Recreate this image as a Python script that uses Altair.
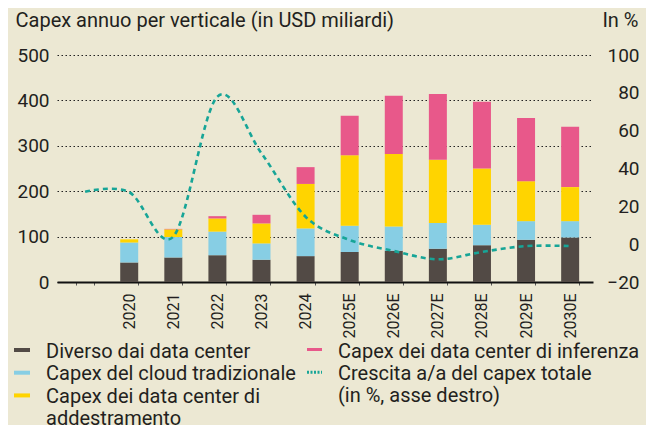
import altair as alt
import pandas as pd

# ---------------- data ----------------
years_all = ["2019", "2020", "2021", "2022", "2023", "2024",
             "2025E", "2026E", "2027E", "2028E", "2029E", "2030E"]
years_bar = years_all[1:]

series_names = [
    "Diverso dai data center",
    "Capex del cloud tradizionale",
    "Capex dei data center di addestramento",
    "Capex dei data center di inferenza",
]
diverso = [43, 54, 59, 49, 57, 66, 69, 73, 81, 93, 98]
cloud = [44, 45, 52, 36, 61, 58, 53, 57, 45, 41, 36]
addestramento = [7, 17, 29, 44, 98, 155, 160, 139, 124, 88, 75]
inferenza = [0, 1, 5, 19, 37, 87, 128, 145, 147, 139, 133]

growth_name = "Crescita a/a del capex totale (in %, asse destro)"
growth = [27.7, 27.5, 4, 78, 48, 14.5, 2.2, -3.6, -8, -4.1, -1, -1]

left_ticks = [0, 100, 200, 300, 400, 500]
right_ticks = [-20, 0, 20, 40, 60, 80, 100]

# ---------------- style ----------------
colors = ["#524a45", "#87cee4", "#ffd400", "#e8588a"]
teal = "#17a597"
bg = "#ece8d3"
ink = "#231f20"
FONT = "Roboto"

rows = []
for i, yr in enumerate(years_bar):
    for k, (name, vals) in enumerate(zip(series_names, [diverso, cloud, addestramento, inferenza])):
        rows.append({"year": yr, "series": name, "value": vals[i], "order": k})
bars_df = pd.DataFrame(rows)
line_df = pd.DataFrame({"year": years_all, "growth": growth, "series": growth_name})

x_enc = alt.X(
    "year:N",
    sort=years_all,
    scale=alt.Scale(domain=years_all, paddingInner=0.592, paddingOuter=0.374, align=0.58),
    axis=alt.Axis(
        title=None, labelAngle=270, labelFontSize=16, labelFont=FONT, labelColor=ink,
        labelPadding=8, tickBand="extent", tickSize=3, tickColor="#555",
        domainColor="#111", domainWidth=2, grid=False,
        labelExpr="datum.value == '2019' ? '' : datum.value",
    ),
)

legend_a = alt.Legend(
    values=series_names[:3], orient="none", legendX=-45, legendY=286.7, direction="vertical",
    title=None, padding=0, symbolType="M-1,-0.46H1V0.04H-1Z", symbolSize=256,
    symbolStrokeWidth=0, labelFontSize=20, labelFont=FONT, labelColor=ink,
    labelBaseline="middle", labelOffset=14, labelLimit=0, rowPadding=2.7,
    labelExpr="datum.label == 'Capex dei data center di addestramento' ? ['Capex dei data center di', 'addestramento'] : datum.label",
)

bars = alt.Chart(bars_df).mark_bar().encode(
    x=x_enc,
    y=alt.Y(
        "value:Q", stack="zero",
        scale=alt.Scale(domain=[0, 500], nice=False),
        axis=alt.Axis(
            values=left_ticks, title="Capex annuo per verticale (in USD miliardi)",
            titleAngle=0, titleAlign="left", titleBaseline="alphabetic",
            titleX=-42, titleY=-28.5, titleFontSize=20, titleFont=FONT,
            titleFontWeight="normal", titleColor=ink,
            labelFontSize=19, labelFont=FONT, labelColor=ink, labelPadding=8,
            labelOverlap=False,
            tickSize=0, domain=False, grid=True, gridDash=[1.5, 2.5],
            gridColor="#222", gridWidth=1.2,
        ),
    ),
    color=alt.Color("series:N", scale=alt.Scale(domain=series_names, range=colors), legend=legend_a),
    order=alt.Order("order:Q"),
)

y_right = alt.Y(
    "growth:Q",
    scale=alt.Scale(domain=[-20, 100], nice=False),
    axis=alt.Axis(
        orient="right", values=right_ticks, title="In %", titleAngle=0,
        titleAlign="right", titleBaseline="alphabetic", titleX=45, titleY=-28.5,
        titleFontSize=20, titleFont=FONT, titleFontWeight="normal", titleColor=ink,
        labelFontSize=19, labelFont=FONT, labelColor=ink, labelAlign="right",
        labelOverlap=False,
        labelPadding=46, tickSize=0, domain=False, grid=False,
    ),
)

line = alt.Chart(line_df).mark_line(
    color=teal, strokeDash=[5, 4], strokeWidth=2.6, interpolate="cardinal"
).encode(x=x_enc, y=y_right)

legend_b_kw = dict(
    orient="none", legendX=247.5, legendY=286.7, direction="vertical", title=None,
    padding=0, symbolType="M-1,-0.29H1", symbolSize=225, symbolStrokeWidth=3,
    labelFontSize=20, labelFont=FONT, labelColor=ink, labelBaseline="middle",
    labelOffset=13.5, labelLimit=0, rowPadding=2.7,
    labelExpr="datum.label == 'Crescita a/a del capex totale (in %, asse destro)' ? ['Crescita a/a del capex totale', '(in %, asse destro)'] : datum.label",
)
legend_domain = [series_names[3], growth_name]

legend_layer = alt.Chart(line_df).transform_filter("false").mark_line().encode(
    x=x_enc,
    y=y_right,
    stroke=alt.Stroke("series:N", scale=alt.Scale(domain=legend_domain, range=[colors[3], teal]),
                      legend=alt.Legend(**legend_b_kw)),
    strokeDash=alt.StrokeDash("series:N", scale=alt.Scale(domain=legend_domain, range=[[1, 0], [2, 1.5]]),
                              legend=alt.Legend(**legend_b_kw)),
)

right_part = alt.layer(line, legend_layer)

chart = alt.layer(bars, right_part).resolve_scale(y="independent").properties(
    width=536, height=227,
    autosize=alt.AutoSizeParams(type="none"),
    padding={"left": 49, "top": 47, "right": 53, "bottom": 144},
    background=bg,
).configure_view(stroke=None)

chart.save("out.html", embed_options={"renderer": "svg", "actions": False})
